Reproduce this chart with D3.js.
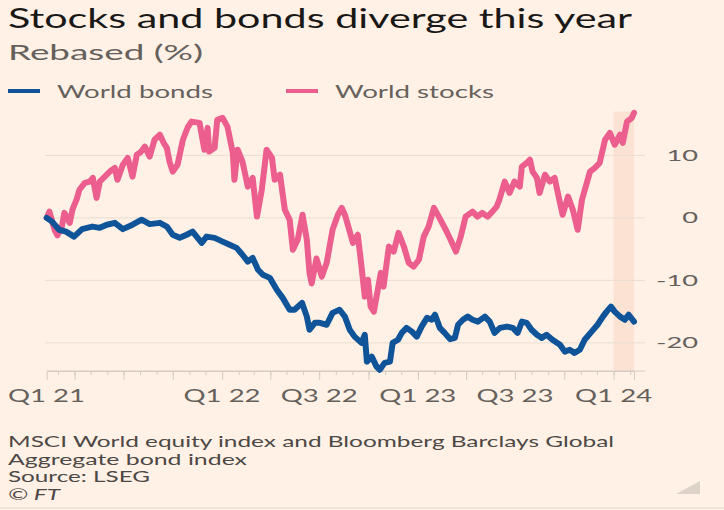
<!DOCTYPE html>
<html>
<head>
<meta charset="utf-8">
<script src="https://cdn.jsdelivr.net/npm/d3@7"></script>
<style>
  html, body { margin: 0; padding: 0; background: #fff1e5; }
  svg { display: block; font-family: Lato, "Open Sans", sans-serif; }
</style>
</head>
<body>
<svg id="chart" width="724" height="510"></svg>
<script>
const width = 724;
const height = 510;

// World stocks, rebased (%)
const stockDates = [
  "2021-02-08", "2021-02-13", "2021-02-23", "2021-02-28", "2021-03-08", "2021-03-13", "2021-03-23", "2021-03-28",
  "2021-04-05", "2021-04-10", "2021-04-20", "2021-04-29", "2021-05-05", "2021-05-12", "2021-05-18", "2021-05-31",
  "2021-06-07", "2021-06-15", "2021-06-20", "2021-06-30", "2021-07-09", "2021-07-18", "2021-07-26", "2021-08-02",
  "2021-08-10", "2021-08-19", "2021-08-28", "2021-09-07", "2021-09-14", "2021-09-20", "2021-09-25", "2021-10-01",
  "2021-10-10", "2021-10-20", "2021-10-29", "2021-11-05", "2021-11-20", "2021-11-29", "2021-12-05", "2021-12-08",
  "2021-12-18", "2021-12-23", "2022-01-02", "2022-01-11", "2022-01-21", "2022-01-24", "2022-01-30", "2022-02-08",
  "2022-02-18", "2022-02-27", "2022-03-07", "2022-03-16", "2022-03-25", "2022-04-04", "2022-04-09", "2022-04-19",
  "2022-04-28", "2022-05-07", "2022-05-13", "2022-05-22", "2022-05-31", "2022-06-08", "2022-06-13", "2022-06-17",
  "2022-06-26", "2022-07-06", "2022-07-15", "2022-07-26", "2022-08-05", "2022-08-12", "2022-08-18", "2022-08-23",
  "2022-09-02", "2022-09-11", "2022-09-18", "2022-09-24", "2022-09-30", "2022-10-05", "2022-10-11", "2022-10-16",
  "2022-10-24", "2022-10-29", "2022-11-08", "2022-11-17", "2022-11-26", "2022-12-06", "2022-12-15", "2022-12-24",
  "2023-01-03", "2023-01-12", "2023-01-21", "2023-01-31", "2023-02-09", "2023-02-22", "2023-03-03", "2023-03-13",
  "2023-03-22", "2023-03-31", "2023-04-13", "2023-04-22", "2023-05-01", "2023-05-11", "2023-05-20", "2023-05-28",
  "2023-06-02", "2023-06-12", "2023-06-21", "2023-06-30", "2023-07-10", "2023-07-14", "2023-07-23", "2023-07-29",
  "2023-08-03", "2023-08-11", "2023-08-16", "2023-08-26", "2023-09-04", "2023-09-13", "2023-09-23", "2023-09-28",
  "2023-10-08", "2023-10-17", "2023-10-26", "2023-11-03", "2023-11-12", "2023-11-18", "2023-11-27", "2023-12-06",
  "2023-12-16", "2023-12-25", "2024-01-03", "2024-01-13", "2024-01-18", "2024-01-26", "2024-02-04", "2024-02-08"
];
const stockValues = [
  0, 1.0, -2.0, -2.8, -1.5, 0.8, -0.8, 1.3,
  3.0, 4.5, 5.6, 5.8, 6.4, 3.2, 5.8, 6.9,
  7.5, 8.0, 6.1, 8.5, 9.6, 6.6, 10.1, 10.5,
  11.4, 9.8, 12.5, 13.3, 12.0, 11.2, 9.0, 7.4,
  8.5, 12.5, 14.5, 15.4, 15.2, 10.9, 14.4, 10.6,
  11.2, 15.7, 16.0, 14.6, 10.4, 6.1, 10.9, 9.0,
  5.0, 6.4, 0.2, 4.5, 10.9, 9.6, 6.1, 6.9,
  1.3, -0.3, -5.1, -3.5, 0.5, -3.5, -8.8, -10.5,
  -6.5, -9.4, -7.2, -1.9, 0.5, 1.6, 0.5, -1.0,
  -4.0, -2.7, -7.8, -12.6, -9.9, -14.2, -15.0, -12.6,
  -8.8, -11.0, -4.6, -5.4, -2.4, -4.6, -7.2, -7.8,
  -6.7, -3.0, -1.4, 1.6, 0.2, -1.9, -3.5, -5.4,
  -3.0, 0.2, 1.0, 0.2, 0.8, 0.2, 1.0, 1.8,
  2.9, 5.8, 4.0, 5.8, 5.0, 8.2, 8.8, 9.3,
  7.4, 6.4, 4.0, 6.9, 5.8, 6.4, 2.4, 0.5,
  3.4, 1.3, -1.9, 2.9, 5.6, 7.4, 8.0, 8.8,
  12.5, 13.6, 11.7, 13.3, 12.0, 15.4, 16.0, 16.8
];

// World bonds, rebased (%)
const bondDates = [
  "2021-02-08", "2021-02-18", "2021-03-03", "2021-03-16", "2021-03-31", "2021-04-15", "2021-05-04", "2021-05-18",
  "2021-05-31", "2021-06-15", "2021-06-30", "2021-07-18", "2021-08-04", "2021-08-19", "2021-09-07", "2021-09-20",
  "2021-10-01", "2021-10-14", "2021-10-27", "2021-11-07", "2021-11-24", "2021-12-03", "2021-12-18", "2022-01-02",
  "2022-01-15", "2022-01-28", "2022-02-08", "2022-02-18", "2022-02-27", "2022-03-09", "2022-03-18", "2022-03-31",
  "2022-04-13", "2022-04-24", "2022-05-07", "2022-05-16", "2022-05-30", "2022-06-08", "2022-06-13", "2022-06-23",
  "2022-07-02", "2022-07-15", "2022-07-26", "2022-08-08", "2022-08-18", "2022-08-27", "2022-09-05", "2022-09-18",
  "2022-09-24", "2022-09-28", "2022-10-07", "2022-10-16", "2022-10-22", "2022-10-31", "2022-11-10", "2022-11-15",
  "2022-11-25", "2022-12-02", "2022-12-11", "2022-12-21", "2022-12-30", "2023-01-08", "2023-01-18", "2023-01-27",
  "2023-02-02", "2023-02-11", "2023-02-20", "2023-03-02", "2023-03-11", "2023-03-17", "2023-03-26", "2023-04-04",
  "2023-04-13", "2023-04-23", "2023-05-06", "2023-05-15", "2023-05-24", "2023-06-03", "2023-06-16", "2023-06-27",
  "2023-07-06", "2023-07-14", "2023-07-23", "2023-08-01", "2023-08-11", "2023-08-20", "2023-08-29", "2023-09-09",
  "2023-09-23", "2023-10-02", "2023-10-11", "2023-10-20", "2023-10-30", "2023-11-08", "2023-11-21", "2023-12-02",
  "2023-12-12", "2023-12-19", "2023-12-27", "2024-01-03", "2024-01-13", "2024-01-22", "2024-01-29", "2024-02-08"
];
const bondValues = [
  0, -0.6, -1.9, -2.2, -3.0, -1.8, -1.4, -1.6,
  -1.1, -0.8, -1.8, -1.1, -0.3, -1.0, -0.8, -1.4,
  -2.7, -3.2, -2.7, -2.2, -4.0, -3.0, -3.2, -3.8,
  -4.3, -4.8, -5.9, -7.0, -6.4, -8.3, -9.1, -9.6,
  -11.5, -12.8, -14.7, -14.7, -13.6, -15.8, -17.9, -16.8,
  -16.8, -17.1, -15.2, -14.7, -15.8, -17.9, -19.0, -20.0,
  -18.7, -23.0, -22.2, -23.8, -24.3, -23.2, -23.0, -20.0,
  -19.5, -18.4, -17.6, -18.2, -19.0, -17.4, -16.0, -16.3,
  -15.5, -17.6, -18.4, -19.4, -19.2, -17.1, -16.3, -15.8,
  -16.3, -16.6, -15.8, -16.6, -18.4, -17.6, -17.4, -17.6,
  -18.4, -16.6, -16.8, -17.9, -18.7, -19.2, -18.7, -19.5,
  -20.3, -21.4, -21.1, -21.6, -21.1, -19.5, -18.2, -17.1,
  -15.8, -15.0, -14.2, -15.0, -15.8, -16.3, -15.5, -16.6
];

const yTicks = [-20, -10, 0, 10];
const xLabels = ["Q1 22", "Q3 22", "Q1 23", "Q3 23", "Q1 24"];
const xLabelDates = ["2022-01-01", "2022-07-01", "2023-01-01", "2023-07-01", "2024-01-01"];
const firstLabel = "Q1 21";
const dateRange = ["2021-02-08", "2024-02-08"];
const highlightStart = "2024-01-01";
const yExtent = [-24.5, 17];

const seriesNames = ["World bonds", "World stocks"];
const seriesColors = ["#0f5499", "#eb5e8d"];

const parse = d3.utcParse("%Y-%m-%d");
const stocks = stockDates.map((d, i) => ({ date: parse(d), value: stockValues[i] }));
const bonds = bondDates.map((d, i) => ({ date: parse(d), value: bondValues[i] }));

const svg = d3.select("#chart");
svg.append("rect").attr("width", width).attr("height", height).attr("fill", "#fff1e5");

const x = d3.scaleUtc().domain(dateRange.map(parse)).range([46.7, 634]);
const y = d3.scaleLinear().domain(yExtent).range([371, 111.6]);

// stretched text helper, the reference is wide
const label = (sel, txt, w) =>
  sel.text(txt).attr("textLength", w).attr("lengthAdjust", "spacingAndGlyphs");

svg.append("text").attr("x", 8).attr("y", 28)
  .attr("font-size", 27).attr("fill", "#1a1817")
  .call(label, "Stocks and bonds diverge this year", 624);

svg.append("text").attr("x", 8).attr("y", 60)
  .attr("font-size", 21).attr("fill", "#66605c")
  .call(label, "Rebased (%)", 195);

// legend
const legendX = [8, 286];
const legendTextW = [156, 159];
seriesNames.forEach((name, i) => {
  svg.append("line")
    .attr("x1", legendX[i]).attr("x2", legendX[i] + 32)
    .attr("y1", 91).attr("y2", 91)
    .attr("stroke", seriesColors[i]).attr("stroke-width", 4);
  svg.append("text").attr("x", legendX[i] + 49).attr("y", 98)
    .attr("font-size", 17).attr("fill", "#66605c")
    .call(label, name, legendTextW[i]);
});

// highlight band for this year
svg.append("rect")
  .attr("x", x(parse(highlightStart)))
  .attr("width", x.range()[1] - x(parse(highlightStart)))
  .attr("y", y(yExtent[1]))
  .attr("height", y(yExtent[0]) - y(yExtent[1]))
  .attr("fill", "#fbe2d2");

// gridlines + y labels
const grid = svg.append("g");
grid.selectAll("line").data(yTicks).join("line")
  .attr("x1", 45).attr("x2", 645)
  .attr("y1", d => y(d)).attr("y2", d => y(d))
  .attr("stroke", "#e9ddd2").attr("stroke-width", 1);

grid.selectAll("text").data(yTicks).join("text")
  .attr("x", 698).attr("y", d => y(d) + 5.5)
  .attr("text-anchor", "end")
  .attr("font-size", 16).attr("fill", "#66605c")
  .each(function () {
    const t = d3.select(this);
    t.text(d => d);
    const w = this.getComputedTextLength();
    t.attr("textLength", w * 1.7).attr("lengthAdjust", "spacingAndGlyphs");
  });

// x axis
const axisY = y(yExtent[0]);
svg.append("line")
  .attr("x1", 46.7).attr("x2", 645).attr("y1", axisY).attr("y2", axisY)
  .attr("stroke", "#d6cbc1");

const minor = svg.append("g").attr("transform", `translate(0,${axisY})`)
  .call(d3.axisBottom(x).ticks(d3.utcMonth.every(1)).tickSize(4).tickFormat(""));
const major = svg.append("g").attr("transform", `translate(0,${axisY})`)
  .call(d3.axisBottom(x).ticks(d3.utcMonth.every(3)).tickSize(9).tickSizeOuter(9).tickFormat(""));
minor.select(".domain").remove();
major.select(".domain").attr("stroke", "#d6cbc1");
svg.selectAll(".tick line").attr("stroke", "#d6cbc1");

svg.append("text").attr("x", 8).attr("y", 402)
  .attr("font-size", 17).attr("fill", "#66605c")
  .call(label, firstLabel, 77);

svg.append("g").selectAll("text").data(xLabels).join("text")
  .attr("x", (d, i) => x(parse(xLabelDates[i])))
  .attr("y", 402)
  .attr("text-anchor", "middle")
  .attr("font-size", 17).attr("fill", "#66605c")
  .each(function (d) {
    d3.select(this).call(label, d, 77);
  });

// lines
const line = d3.line().x(d => x(d.date)).y(d => y(d.value));

svg.append("path").datum(stocks)
  .attr("d", line).attr("fill", "none")
  .attr("stroke", seriesColors[1]).attr("stroke-width", 6)
  .attr("stroke-linejoin", "round").attr("stroke-linecap", "round");

svg.append("path").datum(bonds)
  .attr("d", line).attr("fill", "none")
  .attr("stroke", seriesColors[0]).attr("stroke-width", 6)
  .attr("stroke-linejoin", "round").attr("stroke-linecap", "round");

// footer
const notes = [
  ["MSCI World equity index and Bloomberg Barclays Global", 606],
  ["Aggregate bond index", 239],
  ["Source: LSEG", 142]
];
notes.forEach(([txt, w], i) => {
  svg.append("text").attr("x", 8).attr("y", 447 + i * 17.5)
    .attr("font-size", 15).attr("fill", "#4d4845")
    .call(label, txt, w);
});
svg.append("text").attr("x", 8).attr("y", 500)
  .attr("font-size", 15).attr("font-style", "italic").attr("fill", "#4d4845")
  .call(label, "© FT", 52);

svg.append("path")
  .attr("d", "M676,494L700,494L700,481Z")
  .attr("fill", "#ddd3c9");

svg.append("line")
  .attr("x1", 0).attr("x2", width).attr("y1", 508).attr("y2", 508)
  .attr("stroke", "#e3d8ce");
</script>
</body>
</html>
